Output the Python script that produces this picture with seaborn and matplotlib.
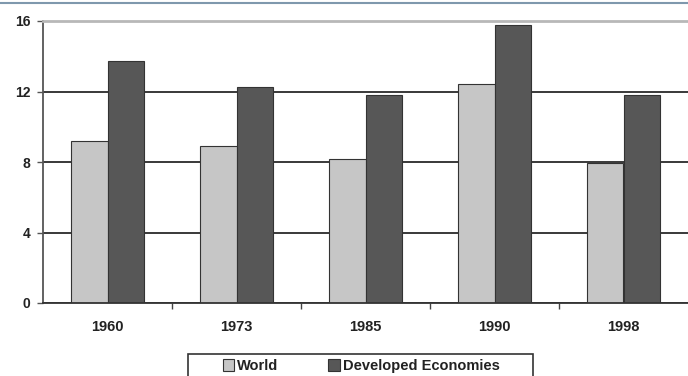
import seaborn as sns
import matplotlib.pyplot as plt
import pandas as pd
from matplotlib.lines import Line2D

years = ["1960", "1973", "1985", "1990", "1998"]
world = [9.2, 8.9, 8.15, 12.4, 7.95]
developed = [13.75, 12.25, 11.8, 15.8, 11.8]

df = pd.DataFrame({
    "year": years * 2,
    "value": world + developed,
    "series": ["World"] * 5 + ["Developed Economies"] * 5,
})

sns.set_style("white")
plt.rcParams["font.family"] = ["Liberation Sans", "DejaVu Sans"]

fig = plt.figure(figsize=(6.88, 3.76), dpi=100)
ax = fig.add_axes([43 / 688, 73 / 376, 645 / 688, 282 / 376])

colors = {"World": "#c6c6c6", "Developed Economies": "#575757"}
sns.barplot(data=df, x="year", y="value", hue="series", palette=colors,
            width=0.57, edgecolor="#333333", linewidth=0.8, saturation=1,
            ax=ax, legend=False)

ax.set_ylim(0, 16)
ax.set_xlim(-0.5, 4.5)
ax.set_yticks([0, 4, 8, 12, 16])
ax.yaxis.grid(True, color="#2a2a2a", linewidth=1.3)
ax.set_axisbelow(True)
ax.set_xlabel("")
ax.set_ylabel("")

ax.spines["right"].set_visible(False)
ax.spines["top"].set_color("#b8b8b8")
ax.spines["top"].set_linewidth(2)
ax.spines["left"].set_color("#555555")
ax.spines["left"].set_linewidth(1.3)
ax.spines["bottom"].set_color("#333333")
ax.spines["bottom"].set_linewidth(1.3)

ax.tick_params(axis="y", left=True, length=4, width=1, color="#555555",
               labelsize=10, pad=5, labelcolor="#222222")
ax.tick_params(axis="x", bottom=False, labelsize=10.5, pad=9, labelcolor="#222222")
ax.set_xticks([0.5, 1.5, 2.5, 3.5], minor=True)
ax.tick_params(axis="x", which="minor", bottom=True, length=4, width=1, color="#444444")
for lab in ax.get_xticklabels() + ax.get_yticklabels():
    lab.set_fontweight("bold")

# legend below the chart, frame cut by the bottom edge as in the scan
handles = [plt.Rectangle((0, 0), 1, 1, facecolor=colors[k], edgecolor="#333333", linewidth=0.8)
           for k in ["World", "Developed Economies"]]
leg = fig.legend(handles, ["World", "Developed Economies"], loc="center",
                 bbox_to_anchor=(361 / 688, 1 - 366 / 376), ncol=2, frameon=False,
                 fontsize=10.5, handlelength=0.8, handleheight=0.8, handletextpad=0.2,
                 columnspacing=3.4, borderpad=0, borderaxespad=0)
for t in leg.get_texts():
    t.set_fontweight("bold")
    t.set_color("#222222")
fig.add_artist(plt.Rectangle((188 / 688, -0.02), 345 / 688, 22 / 376 + 0.02,
                             transform=fig.transFigure, fill=False,
                             edgecolor="#333333", linewidth=1.2))

# thin frame line at the top of the picture
fig.add_artist(Line2D([0, 1], [1 - 3 / 376, 1 - 3 / 376], color="#7f98ad", linewidth=1.5))

fig.savefig("out.png", dpi=100)
